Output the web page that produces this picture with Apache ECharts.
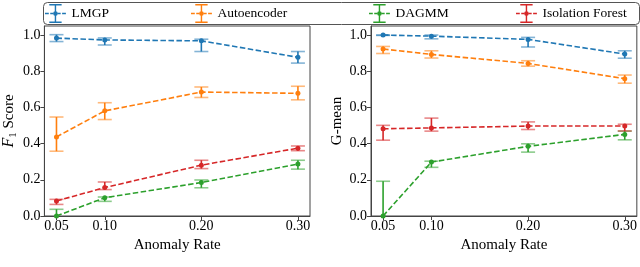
<!DOCTYPE html>
<html>
<head>
<meta charset="utf-8">
<script src="https://cdn.jsdelivr.net/npm/echarts@6/dist/echarts.min.js"></script>
<style>html,body{margin:0;padding:0;background:#fff}#c{width:640px;height:267px}</style>
</head>
<body>
<div id="c"></div>
<script>
// ---- data ----
const anomalyRates = [0.05, 0.10, 0.20, 0.30];
const methods = ['LMGP', 'Autoencoder', 'DAGMM', 'Isolation Forest'];
const xTicks = [0.05, 0.10, 0.20, 0.30];
const yTicks = [0.0, 0.2, 0.4, 0.6, 0.8, 1.0];

// F1 score (mean, lower, upper)
const lmgpF1 = [0.983, 0.973, 0.968, 0.877];
const lmgpF1Low = [0.964, 0.945, 0.909, 0.845];
const lmgpF1High = [1.002, 0.984, 0.977, 0.909];
const aeF1 = [0.437, 0.581, 0.685, 0.678];
const aeF1Low = [0.358, 0.533, 0.655, 0.642];
const aeF1High = [0.547, 0.626, 0.713, 0.717];
const dagF1 = [0.0, 0.101, 0.185, 0.287];
const dagF1Low = [-0.037, 0.081, 0.156, 0.259];
const dagF1High = [0.037, 0.105, 0.199, 0.308];
const ifF1 = [0.083, 0.157, 0.281, 0.375];
const ifF1Low = [0.064, 0.146, 0.262, 0.361];
const ifF1High = [0.092, 0.188, 0.308, 0.387];

// G-mean (mean, lower, upper)
const lmgpG = [1.0, 0.994, 0.976, 0.895];
const lmgpGLow = [0.998, 0.979, 0.934, 0.872];
const lmgpGHigh = [1.0, 1.0, 0.987, 0.913];
const aeG = [0.923, 0.893, 0.843, 0.759];
const aeGLow = [0.898, 0.873, 0.828, 0.734];
const aeGHigh = [0.937, 0.913, 0.858, 0.779];
const dagG = [0.0, 0.298, 0.385, 0.451];
const dagGLow = [-0.192, 0.269, 0.353, 0.421];
const dagGHigh = [0.192, 0.303, 0.399, 0.469];
const ifG = [0.482, 0.487, 0.497, 0.497];
const ifGLow = [0.419, 0.469, 0.478, 0.470];
const ifGHigh = [0.501, 0.541, 0.520, 0.507];

const colors = ['#1f77b4', '#ff7f0e', '#2ca02c', '#d62728'];
const FONT = 'Liberation Serif';

const panels = [
  { mean: [lmgpF1, aeF1, dagF1, ifF1], low: [lmgpF1Low, aeF1Low, dagF1Low, ifF1Low], high: [lmgpF1High, aeF1High, dagF1High, ifF1High] },
  { mean: [lmgpG, aeG, dagG, ifG], low: [lmgpGLow, aeGLow, dagGLow, ifGLow], high: [lmgpGHigh, aeGHigh, dagGHigh, ifGHigh] }
];

function errRender(color) {
  return function (params, api) {
    const x = api.value(0), lo = api.value(1), hi = api.value(2);
    const a = api.coord([x, lo]), b = api.coord([x, hi]);
    const hw = 7;
    return {
      type: 'group',
      children: [
        { type: 'line', shape: { x1: a[0], y1: a[1], x2: b[0], y2: b[1] }, style: { stroke: color, lineWidth: 1.6 } },
        { type: 'line', shape: { x1: b[0] - hw, y1: b[1], x2: b[0] + hw, y2: b[1] }, style: { stroke: color, lineWidth: 1.6, opacity: 0.55 } },
        { type: 'line', shape: { x1: a[0] - hw, y1: a[1], x2: a[0] + hw, y2: a[1] }, style: { stroke: color, lineWidth: 1.6, opacity: 0.55 } }
      ]
    };
  };
}

const series = [];
panels.forEach((p, g) => {
  methods.forEach((m, k) => {
    series.push({
      type: 'line', name: m, xAxisIndex: g, yAxisIndex: g,
      data: anomalyRates.map((x, i) => [x, p.mean[k][i]]),
      symbol: 'circle', symbolSize: 5, color: colors[k],
      lineStyle: { type: [5.5, 2.5], width: 1.6, color: colors[k] },
      itemStyle: { color: colors[k] },
      clip: true, z: 2 + k, animation: false
    });
    series.push({
      type: 'custom', name: m + ' err', xAxisIndex: g, yAxisIndex: g,
      data: anomalyRates.map((x, i) => [x, p.low[k][i], p.high[k][i]]),
      encode: { x: 0, y: [1, 2] },
      renderItem: errRender(colors[k]), clip: true, z: 2 + k, animation: false
    });
  });
});

const axisColor = '#444';
function xAxis(g) {
  return {
    type: 'value', gridIndex: g, min: 0.0375, max: 0.3125,
    name: 'Anomaly Rate', nameLocation: 'middle', nameGap: 15,
    nameTextStyle: { fontFamily: FONT, fontSize: 15, color: '#000' },
    axisLine: { show: true, lineStyle: { color: axisColor, width: 1 } },
    axisTick: { show: true, length: 4, customValues: xTicks, lineStyle: { color: axisColor } },
    axisLabel: { customValues: xTicks, formatter: v => Number(v).toFixed(2), fontFamily: FONT, fontSize: 14, color: '#000', margin: 3 },
    splitLine: { show: false }
  };
}
function yAxis(g, name, gap, rich) {
  return {
    type: 'value', gridIndex: g, min: 0, max: 1.05,
    name: name, nameLocation: 'middle', nameGap: gap,
    nameTextStyle: { fontFamily: FONT, fontSize: 15, color: '#000', rich: rich },
    axisLine: { show: true, lineStyle: { color: axisColor, width: 1 } },
    axisTick: { show: true, length: 4, customValues: yTicks, lineStyle: { color: axisColor } },
    axisLabel: { customValues: yTicks, formatter: v => Number(v).toFixed(1), fontFamily: FONT, fontSize: 14, color: '#000', margin: 4 },
    splitLine: { show: false }
  };
}

const iconPath = 'path://M10.25 0h1.5v20h-1.5Z M4.5 0h13v1.5h-13Z M4.5 18.5h13v1.5h-13Z M0 9.25h4v1.5h-4Z M5.5 9.25h3v1.5h-3Z M13.5 9.25h3v1.5h-3Z M18 9.25h4v1.5h-4Z M13.5 10A2.5 2.5 0 1 1 8.5 10A2.5 2.5 0 1 1 13.5 10Z';
const legendLefts = [45, 191, 369, 516];
const legends = methods.map((m, k) => ({
  data: [m], left: legendLefts[k], top: 4, padding: 0,
  icon: iconPath, itemWidth: 22, itemHeight: 19, itemGap: 5,
  itemStyle: { borderWidth: 0 },
  textStyle: { fontFamily: FONT, fontSize: 13.5, color: '#000' },
  selectedMode: false
}));

const chart = echarts.init(document.getElementById('c'), null, { renderer: 'canvas' });
chart.setOption({
  animation: false,
  backgroundColor: '#fff',
  textStyle: { fontFamily: FONT },
  grid: [
    { left: 43, top: 26, width: 267, height: 190, show: true, borderColor: axisColor, borderWidth: 1, backgroundColor: 'transparent' },
    { left: 371, top: 26, width: 267, height: 190, show: true, borderColor: axisColor, borderWidth: 1, backgroundColor: 'transparent' }
  ],
  xAxis: [xAxis(0), xAxis(1)],
  yAxis: [
    yAxis(0, '{i|F}{s|1} Score', 24, {
      i: { fontStyle: 'italic', fontFamily: FONT, fontSize: 16, lineHeight: 20, verticalAlign: 'middle' },
      s: { fontFamily: FONT, fontSize: 11, lineHeight: 20, verticalAlign: 'bottom' }
    }),
    yAxis(1, 'G-mean', 26, undefined)
  ],
  legend: legends,
  graphic: [{
    type: 'rect', left: 43, top: 2, z: -1,
    shape: { width: 596, height: 22, r: 4 },
    style: { fill: '#fff', stroke: '#555', lineWidth: 1 }
  }],
  series: series
});
</script>
</body>
</html>
